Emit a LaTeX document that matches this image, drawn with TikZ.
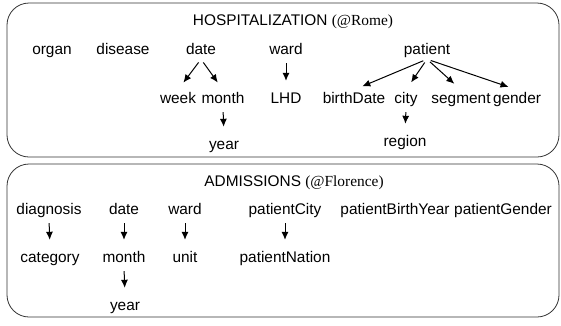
\documentclass[tikz,border=0pt]{standalone}
\usepackage{fontspec}
\setmainfont{Liberation Sans}
\newfontfamily\timesfont{Liberation Serif}
\usepackage{tikz}
\usetikzlibrary{arrows.meta}

\tikzset{
  attr/.style={anchor=base, inner sep=2pt, text height=11pt, text depth=3pt},
  arr/.style={-{Latex[length=8pt,width=7pt]}, line width=1pt, shorten <=4pt, shorten >=9pt},
  factbox/.style={rounded corners=22pt, line width=0.8pt, draw=black!80}
}

\begin{document}
\begin{tikzpicture}[x=1pt,y=-1pt,font=\fontsize{15.4}{18}\selectfont]
          \useasboundingbox (0,0) rectangle (561,325);

        %Box Hospitalization
          \draw [factbox] (7,3) rectangle (559,157);
          \node [attr] (title1) at (293,25) {HOSPITALIZATION {\timesfont(@Rome)}};

          \node [attr] (organ) at (52,54) {organ};
          \node [attr] (disease) at (123,54) {disease};
          \node [attr] (date1) at (201,54) {date};
          \node [attr] (ward1) at (286,54) {ward};
          \node [attr] (patient) at (427,54) {patient};

          \node [attr] (week) at (178,103) {week};
          \node [attr] (month1) at (223,103) {month};
          \node [attr] (lhd) at (286,103) {LHD};
          \node [attr] (birthdate) at (354,103) {birthDate};
          \node [attr] (city) at (406,103) {city};
          \node [attr] (segment) at (461,103) {segment};
          \node [attr] (gender) at (517,103) {gender};

          \node [attr] (year1) at (224,149) {year};
          \node [attr] (region) at (405,146) {region};

        %Box Admissions
          \draw [factbox] (7,164) rectangle (559,317);
          \node [attr] (title2) at (294,186) {ADMISSIONS {\timesfont(@Florence)}};

          \node [attr] (diagnosis) at (49,214) {diagnosis};
          \node [attr] (date2) at (124,214) {date};
          \node [attr] (ward2) at (185,214) {ward};
          \node [attr] (pcity) at (285,214) {patientCity};
          \node [attr] (pbirth) at (395,214) {patientBirthYear};
          \node [attr] (pgender) at (503,214) {patientGender};

          \node [attr] (category) at (50,262) {category};
          \node [attr] (month2) at (124,262) {month};
          \node [attr] (unit) at (185,262) {unit};
          \node [attr] (pnation) at (285,262) {patientNation};

          \node [attr] (year2) at (125,310) {year};

        %Arrows
        \draw [arr] (date1.south) -- (week.north);
        \draw [arr] (date1.south) -- (month1.north);
        \draw [arr] (month1.south) -- (year1.north);
        \draw [arr] (ward1.south) -- (lhd.north);

        \draw [arr] (patient.south) -- (birthdate.north);
        \draw [arr] (patient.south) -- (city.north);
        \draw [arr] (patient.south) -- (segment.north);
        \draw [arr] (patient.south) -- (gender.north);
        \draw [arr] (city.south) -- (region.north);

        \draw [arr] (diagnosis.south) -- (category.north);
        \draw [arr] (date2.south) -- (month2.north);
        \draw [arr] (month2.south) -- (year2.north);
        \draw [arr] (ward2.south) -- (unit.north);
        \draw [arr] (pcity.south) -- (pnation.north);
\end{tikzpicture}
\end{document}
